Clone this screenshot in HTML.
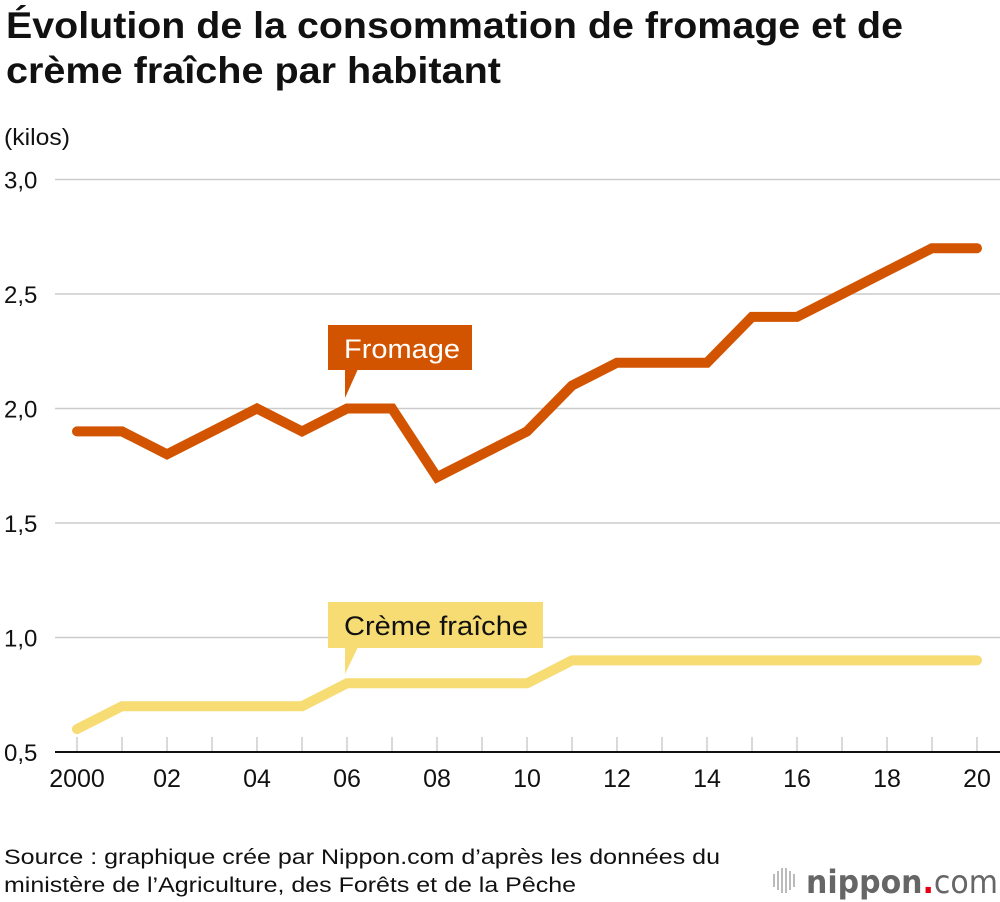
<!DOCTYPE html>
<html><head><meta charset="utf-8"><style>
body{margin:0;background:#fff;font-family:"Liberation Sans",sans-serif;}
#wrap{position:relative;width:1000px;height:902px;overflow:hidden}
</style></head><body>
<div id="wrap">
<svg id="chart" width="1000" height="902" xmlns="http://www.w3.org/2000/svg">
<text x="6" y="38" font-size="37" font-weight="bold" fill="#111" textLength="897" lengthAdjust="spacingAndGlyphs">Évolution de la consommation de fromage et de</text>
<text x="6" y="83" font-size="37" font-weight="bold" fill="#111" textLength="495" lengthAdjust="spacingAndGlyphs">crème fraîche par habitant</text>
<text x="4" y="145" font-size="23" fill="#111" textLength="66" lengthAdjust="spacingAndGlyphs">(kilos)</text>
<g id="grid"></g><g id="ticks"></g><g id="series"></g>
<g>
<rect x="328" y="325" width="144" height="45" fill="#d35400"/>
<polygon points="345,369 358,369 345,398" fill="#d35400"/>
<text x="344" y="358" font-size="27" fill="#fff" textLength="116" lengthAdjust="spacingAndGlyphs">Fromage</text>
</g>
<g>
<rect x="328" y="602" width="215" height="46" fill="#f6dc72"/>
<polygon points="345,647 358,647 345,674" fill="#f6dc72"/>
<text x="344" y="635" font-size="27" fill="#111" textLength="184" lengthAdjust="spacingAndGlyphs">Crème fraîche</text>
</g>
<text x="4" y="864" font-size="21" fill="#111" textLength="716" lengthAdjust="spacingAndGlyphs">Source : graphique crée par Nippon.com d’après les données du</text>
<text x="4" y="892" font-size="21" fill="#111" textLength="572" lengthAdjust="spacingAndGlyphs">ministère de l’Agriculture, des Forêts et de la Pêche</text>
<g>
<g stroke="#bbb" stroke-width="2"><line x1="774" y1="874" x2="774" y2="887"/><line x1="778" y1="871" x2="778" y2="890"/><line x1="782" y1="868" x2="782" y2="893"/><line x1="786" y1="868" x2="786" y2="893"/><line x1="790" y1="871" x2="790" y2="890"/><line x1="794" y1="874" x2="794" y2="887"/></g>
<text x="806" y="893" font-size="32" fill="#666" font-weight="bold" font-family="DejaVu Sans, sans-serif" textLength="192" lengthAdjust="spacingAndGlyphs">nippon<tspan fill="#e60012">.</tspan><tspan font-weight="normal">com</tspan></text>
</g>
</svg>
</div>
<script>
const years=[2000,2001,2002,2003,2004,2005,2006,2007,2008,2009,2010,2011,2012,2013,2014,2015,2016,2017,2018,2019,2020];
const yearLabels=["2000","","02","","04","","06","","08","","10","","12","","14","","16","","18","","20"];
const fromage=[1.9,1.9,1.8,1.9,2.0,1.9,2.0,2.0,1.7,1.8,1.9,2.1,2.2,2.2,2.2,2.4,2.4,2.5,2.6,2.7,2.7];
const creme=[0.6,0.7,0.7,0.7,0.7,0.7,0.8,0.8,0.8,0.8,0.8,0.9,0.9,0.9,0.9,0.9,0.9,0.9,0.9,0.9,0.9];
const yTicks=[0.5,1.0,1.5,2.0,2.5,3.0];
const yTickLabels=["0,5","1,0","1,5","2,0","2,5","3,0"];
const NS="http://www.w3.org/2000/svg";
function x(yr){return 77+(yr-2000)*45.0;}
function y(v){return 752-(v-0.5)*229;}
function mk(t,a,p){const e=document.createElementNS(NS,t);for(const k in a)e.setAttribute(k,a[k]);p.appendChild(e);return e;}
const grid=document.getElementById('grid'),ticks=document.getElementById('ticks'),ser=document.getElementById('series');
yTicks.forEach((v,i)=>{
 const l=mk('line',{x1:55,x2:1000,y1:y(v),y2:y(v),stroke:i==0?'#111':'#ccc','stroke-width':i==0?2:1.5},grid);
 
 
 const t=mk('text',{x:4,y:y(v)+9,'font-size':24,fill:'#111'},grid);t.textContent=yTickLabels[i];
 
 
});
years.forEach((yr,i)=>{
 const l=mk('line',{x1:x(yr),x2:x(yr),y1:737,y2:751,stroke:'#ccc','stroke-width':1.5},ticks);
 
 
 if(yearLabels[i]){const t=mk('text',{x:x(yr),y:787,'font-size':25,fill:'#111','text-anchor':'middle'},ticks);t.textContent=yearLabels[i];
 
 }
});
function line(data,col,name){
 const p=mk('polyline',{points:data.map((v,i)=>x(years[i])+','+y(v)).join(' '),fill:'none',stroke:col,'stroke-width':10,'stroke-linecap':'round','stroke-linejoin':'miter'},ser);
 
 
}
line(creme,'#f6dc72','creme-fraiche-line');
line(fromage,'#d35400','fromage-line');
</script>
</body></html>
